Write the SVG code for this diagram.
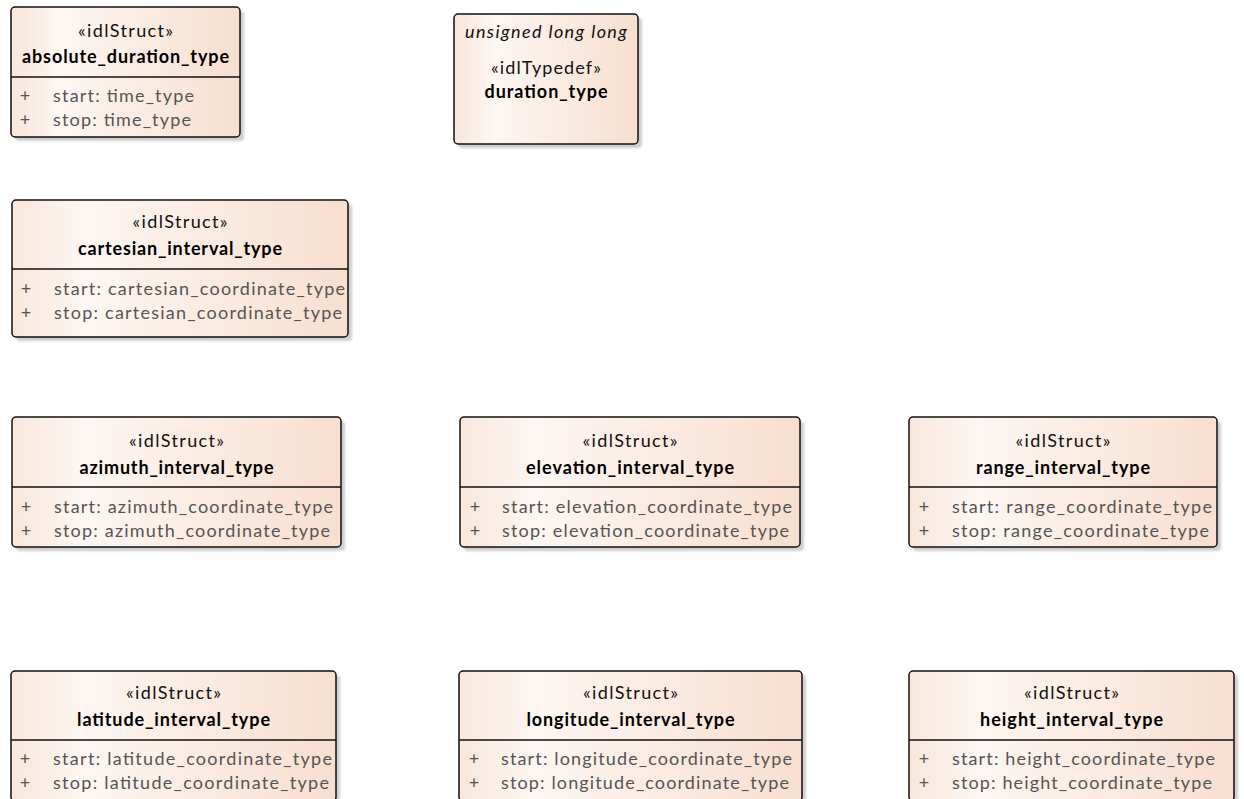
<svg xmlns="http://www.w3.org/2000/svg" width="1244" height="799" viewBox="0 0 1244 799">
<style>
.box{fill:url(#fillg);stroke:#111;stroke-width:1.5}
.sh{fill:#cfcfcf;filter:url(#blur)}
.div{stroke:#111;stroke-width:1.5}
text{font-family:Lato,"Open Sans","Liberation Sans",sans-serif;font-size:18px}
.st{fill:#111;text-anchor:middle}
.nm{fill:#000;text-anchor:middle;font-weight:bold}
.it{fill:#111;text-anchor:middle;font-style:italic}
.at{fill:#555}
.pl{fill:#555;text-anchor:middle}
</style>
<defs>
<linearGradient id="fillg" x1="0" y1="0" x2="1" y2="0">
<stop offset="0" stop-color="#F9E7DC"/>
<stop offset="0.22" stop-color="#FDF6F2"/>
<stop offset="1" stop-color="#F8DFCF"/>
</linearGradient>
<filter id="blur" x="-10%" y="-10%" width="120%" height="120%"><feGaussianBlur stdDeviation="1.2"/></filter>
</defs>
<rect width="1244" height="799" fill="#fff"/>
<g id="connectors"/>

<g id="absolute_duration_type">
<rect class="sh" x="15" y="11" width="229" height="130" rx="4"/>
<rect class="box" x="11" y="7" width="229" height="130" rx="4"/>
<line class="div" x1="11" y1="77" x2="240" y2="77"/>
<text class="st" x="125.5" y="37" textLength="95" lengthAdjust="spacing">«idlStruct»</text>
<text class="nm" x="125.5" y="63" textLength="207" lengthAdjust="spacing">absolute_duration_type</text>
<text class="pl" x="25" y="102">+</text>
<text class="pl" x="25" y="126">+</text>
<text class="at" x="53" y="102" textLength="141" lengthAdjust="spacing">start: time_type</text>
<text class="at" x="53" y="126" textLength="138" lengthAdjust="spacing">stop: time_type</text>
</g>

<g id="duration_type">
<rect class="sh" x="458" y="18" width="184" height="130" rx="4"/>
<rect class="box" x="454" y="14" width="184" height="130" rx="4"/>
<text class="it" x="546" y="38" textLength="162" lengthAdjust="spacing">unsigned long long</text>
<text class="st" x="546" y="74" textLength="110" lengthAdjust="spacing">«idlTypedef»</text>
<text class="nm" x="546" y="98" textLength="123" lengthAdjust="spacing">duration_type</text>
</g>

<g id="cartesian_interval_type">
<rect class="sh" x="16" y="204" width="336" height="137" rx="4"/>
<rect class="box" x="12" y="200" width="336" height="137" rx="4"/>
<line class="div" x1="12" y1="269" x2="348" y2="269"/>
<text class="st" x="180" y="228" textLength="95" lengthAdjust="spacing">«idlStruct»</text>
<text class="nm" x="180" y="255" textLength="204" lengthAdjust="spacing">cartesian_interval_type</text>
<text class="pl" x="26" y="295">+</text>
<text class="pl" x="26" y="319">+</text>
<text class="at" x="54" y="295" textLength="291" lengthAdjust="spacing">start: cartesian_coordinate_type</text>
<text class="at" x="54" y="319" textLength="288" lengthAdjust="spacing">stop: cartesian_coordinate_type</text>
</g>

<g id="azimuth_interval_type">
<rect class="sh" x="16" y="421" width="329" height="130" rx="4"/>
<rect class="box" x="12" y="417" width="329" height="130" rx="4"/>
<line class="div" x1="12" y1="487" x2="341" y2="487"/>
<text class="st" x="176.5" y="447" textLength="95" lengthAdjust="spacing">«idlStruct»</text>
<text class="nm" x="176.5" y="474" textLength="194" lengthAdjust="spacing">azimuth_interval_type</text>
<text class="pl" x="26" y="513">+</text>
<text class="pl" x="26" y="537">+</text>
<text class="at" x="54" y="513" textLength="279" lengthAdjust="spacing">start: azimuth_coordinate_type</text>
<text class="at" x="54" y="537" textLength="276" lengthAdjust="spacing">stop: azimuth_coordinate_type</text>
</g>

<g id="elevation_interval_type">
<rect class="sh" x="464" y="421" width="340" height="130" rx="4"/>
<rect class="box" x="460" y="417" width="340" height="130" rx="4"/>
<line class="div" x1="460" y1="487" x2="800" y2="487"/>
<text class="st" x="630" y="447" textLength="95" lengthAdjust="spacing">«idlStruct»</text>
<text class="nm" x="630" y="474" textLength="208" lengthAdjust="spacing">elevation_interval_type</text>
<text class="pl" x="475" y="513">+</text>
<text class="pl" x="475" y="537">+</text>
<text class="at" x="502" y="513" textLength="290" lengthAdjust="spacing">start: elevation_coordinate_type</text>
<text class="at" x="502" y="537" textLength="287" lengthAdjust="spacing">stop: elevation_coordinate_type</text>
</g>

<g id="range_interval_type">
<rect class="sh" x="913" y="421" width="308" height="130" rx="4"/>
<rect class="box" x="909" y="417" width="308" height="130" rx="4"/>
<line class="div" x1="909" y1="487" x2="1217" y2="487"/>
<text class="st" x="1063" y="447" textLength="95" lengthAdjust="spacing">«idlStruct»</text>
<text class="nm" x="1063" y="474" textLength="174" lengthAdjust="spacing">range_interval_type</text>
<text class="pl" x="924" y="513">+</text>
<text class="pl" x="924" y="537">+</text>
<text class="at" x="952" y="513" textLength="260" lengthAdjust="spacing">start: range_coordinate_type</text>
<text class="at" x="952" y="537" textLength="257" lengthAdjust="spacing">stop: range_coordinate_type</text>
</g>

<g id="latitude_interval_type">
<rect class="sh" x="15" y="675" width="325" height="130" rx="4"/>
<rect class="box" x="11" y="671" width="325" height="130" rx="4"/>
<line class="div" x1="11" y1="740" x2="336" y2="740"/>
<text class="st" x="173.5" y="699" textLength="95" lengthAdjust="spacing">«idlStruct»</text>
<text class="nm" x="173.5" y="726" textLength="193" lengthAdjust="spacing">latitude_interval_type</text>
<text class="pl" x="25" y="765">+</text>
<text class="pl" x="25" y="789">+</text>
<text class="at" x="53" y="765" textLength="279" lengthAdjust="spacing">start: latitude_coordinate_type</text>
<text class="at" x="53" y="789" textLength="276" lengthAdjust="spacing">stop: latitude_coordinate_type</text>
</g>

<g id="longitude_interval_type">
<rect class="sh" x="463" y="675" width="343" height="130" rx="4"/>
<rect class="box" x="459" y="671" width="343" height="130" rx="4"/>
<line class="div" x1="459" y1="740" x2="802" y2="740"/>
<text class="st" x="630.5" y="699" textLength="95" lengthAdjust="spacing">«idlStruct»</text>
<text class="nm" x="630.5" y="726" textLength="208" lengthAdjust="spacing">longitude_interval_type</text>
<text class="pl" x="474" y="765">+</text>
<text class="pl" x="474" y="789">+</text>
<text class="at" x="501" y="765" textLength="291" lengthAdjust="spacing">start: longitude_coordinate_type</text>
<text class="at" x="501" y="789" textLength="288" lengthAdjust="spacing">stop: longitude_coordinate_type</text>
</g>

<g id="height_interval_type">
<rect class="sh" x="913" y="675" width="325" height="130" rx="4"/>
<rect class="box" x="909" y="671" width="325" height="130" rx="4"/>
<line class="div" x1="909" y1="740" x2="1234" y2="740"/>
<text class="st" x="1071.5" y="699" textLength="95" lengthAdjust="spacing">«idlStruct»</text>
<text class="nm" x="1071.5" y="726" textLength="183" lengthAdjust="spacing">height_interval_type</text>
<text class="pl" x="924" y="765">+</text>
<text class="pl" x="924" y="789">+</text>
<text class="at" x="952" y="765" textLength="263" lengthAdjust="spacing">start: height_coordinate_type</text>
<text class="at" x="952" y="789" textLength="260" lengthAdjust="spacing">stop: height_coordinate_type</text>
</g>
</svg>
